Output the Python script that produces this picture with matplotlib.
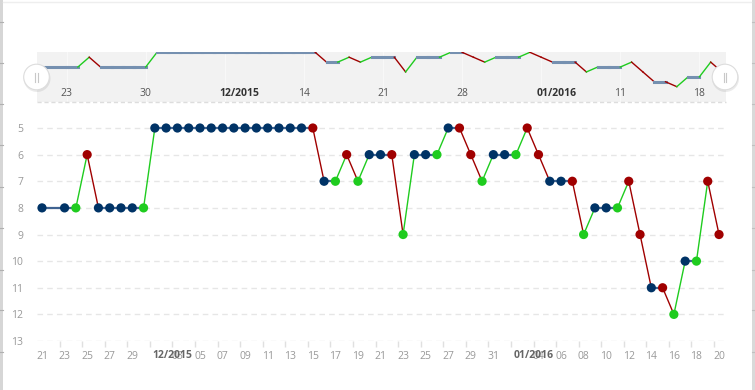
import matplotlib
matplotlib.use("Agg")
import matplotlib.pyplot as plt
import matplotlib.dates as mdates
from matplotlib.patches import Circle, Rectangle
import pandas as pd
import numpy as np

plt.rcParams['font.family'] = ['Liberation Sans Narrow', 'Open Sans', 'DejaVu Sans']

# ---------------- data ----------------
dates = ["2015-11-21"] + [d.strftime("%Y-%m-%d") for d in pd.date_range("2015-11-23", "2016-01-20")]
ranks = [8, 8, 8, 6, 8, 8, 8, 8, 8,
         5, 5, 5, 5, 5, 5, 5, 5, 5, 5, 5, 5, 5, 5, 5,
         7, 7, 6, 7, 6, 6, 6, 9, 6, 6, 6, 5, 5, 6, 7, 6,
         6, 6, 5, 6, 7, 7, 7, 9, 8, 8, 8, 7, 9, 11, 11, 12, 10, 10, 7, 9]
main_xtick_dates = pd.date_range("2015-11-21", "2016-01-20", freq="2D")
main_month_labels = {"2015-12-01": "12/2015", "2016-01-02": "01/2016"}
nav_tick_dates = ["2015-11-23", "2015-11-30", "2015-12-07", "2015-12-14", "2015-12-21",
                  "2015-12-28", "2016-01-04", "2016-01-11", "2016-01-18"]
nav_tick_labels = ["23", "30", "12/2015", "14", "21", "28", "01/2016", "11", "18"]
y_ticks = list(range(5, 14))

# ---------------- styles ----------------
C_UP = "#1fcc1f"
C_DOWN = "#a00000"
C_SAME = "#003366"
C_SAME_LINE = "#3f6391"
C_NAV_SAME = "#7590b0"
GRID = "#e6e6e6"
LABEL = "#999999"

x = mdates.date2num(pd.to_datetime(dates))
y = np.array(ranks, dtype=float)

def seg_color(a, b, same):
    if b < a:
        return C_UP
    if b > a:
        return C_DOWN
    return same

pt_colors = []
for i in range(len(y)):
    if i < len(y) - 1:
        pt_colors.append(seg_color(y[i], y[i + 1], C_SAME))
    else:
        pt_colors.append(seg_color(y[i - 1], y[i], C_SAME))

W, H = 755, 390
fig = plt.figure(figsize=(W / 100, H / 100), dpi=100)

def frac_box(l, t, r, b):
    return [l / W, 1 - b / H, (r - l) / W, (b - t) / H]

# ---------------- main chart ----------------
ax = fig.add_axes(frac_box(37, 115, 725, 341))
day = 1.0
ax.set_xlim(x[0] - 0.444 * day, x[-1] + 0.53 * day)
ax.set_ylim(13, 5 - 13 / 26.6)
for s in ax.spines.values():
    s.set_visible(False)
ax.set_yticks(y_ticks)
ax.set_yticklabels([str(v) for v in y_ticks])
ax.grid(axis='y', color=GRID, linestyle=(0, (4, 3)), linewidth=1)
ax.set_axisbelow(True)
ax.tick_params(axis='y', length=0, pad=10, labelsize=7.5, labelcolor=LABEL)

mt = mdates.date2num(main_xtick_dates)
ax.set_xticks(mt)
labels = []
for d in main_xtick_dates:
    k = d.strftime("%Y-%m-%d")
    labels.append("" if k in main_month_labels else d.strftime("%d"))
ax.set_xticklabels(labels)
ax.tick_params(axis='x', length=0, pad=7, labelsize=7.5, labelcolor=LABEL)
ax.set_xticks(mt + 1.56, minor=True)
ax.tick_params(axis='x', which='minor', length=4, color="#e0e0e0", width=1)
ax.set_xlim(x[0] - 0.444, x[-1] + 0.53)
for k, lab in main_month_labels.items():
    xv = mdates.date2num(pd.Timestamp(k))
    ax.annotate(lab, xy=(xv, 0), xycoords=('data', 'axes fraction'),
                xytext=(-2.5, -14), textcoords='offset pixels', ha='left', va='center',
                fontsize=7.5, fontweight='bold', color="#666666")
    # the overlapped regular label two days later
for i in range(len(x) - 1):
    c = seg_color(y[i], y[i + 1], C_SAME_LINE)
    lw = 1.6 if c == C_SAME_LINE else 1.0
    ax.plot(x[i:i + 2], y[i:i + 2], color=c, lw=lw, zorder=2, solid_capstyle='round')
ax.scatter(x, y, s=44, c=pt_colors, zorder=3, linewidths=0)

# ---------------- navigator ----------------
nav = fig.add_axes(frac_box(37, 52, 726, 102))
nav.set_facecolor("#f2f2f2")
for s in nav.spines.values():
    s.set_visible(False)
nav.set_xlim(x[0] - 7 / 11.3, x[-1] + 4 / 11.3)
nav.set_ylim(5 + 49.7 / 4.91, 5 - 0.3 / 4.91)
nav.set_xticks([])
nav.set_yticks([])
for i in range(len(x) - 1):
    c = seg_color(y[i], y[i + 1], C_NAV_SAME)
    lw = 2.2 if c == C_NAV_SAME else 1.0
    nav.plot(x[i:i + 2], y[i:i + 2], color=c, lw=lw, zorder=2)
for d, lab in zip(nav_tick_dates, nav_tick_labels):
    xv = mdates.date2num(pd.Timestamp(d))
    nav.axvline(xv, color="#f8f8f8", lw=0.8, zorder=1)
    bold = "/" in lab
    nav.annotate(lab, xy=(xv, 0.16), xycoords=('data', 'axes fraction'),
                 xytext=(-5 if bold else 0, 0), textcoords='offset pixels',
                 ha='left' if bold else 'center', va='center', fontsize=7.5,
                 fontweight='bold' if bold else 'normal',
                 color="#333333" if bold else "#555555")
nav.axhline(nav.get_ylim()[0], color="#dddddd", lw=1, linestyle=(0, (3, 2)), clip_on=False)

# ---------------- overlay (handles, page edges) ----------------
ov = fig.add_axes([0, 0, 1, 1], zorder=10)
ov.set_xlim(0, W)
ov.set_ylim(H, 0)
ov.axis('off')
ov.patch.set_alpha(0)
ov.add_patch(Rectangle((0, 0), 2.5, H, color="#d6d6d6", lw=0))
ov.add_patch(Rectangle((751.5, 0), 3.5, H, color="#d9d9d9", lw=0))
for yy in [22, 63, 104, 145, 187, 228, 270, 310, 352]:
    ov.plot([0, 2.5], [yy, yy], color="#b0b0b0", lw=0.8)
    ov.plot([751.5, 755], [yy, yy], color="#c0c0c0", lw=0.8)
ov.plot([3, 751], [1.5, 1.5], color="#eeeeee", lw=1)
for cx, cy in [(36.5, 77), (725, 77)]:
    ov.add_patch(Circle((cx + 0.5, cy + 1.5), 13.5, color="#000000", alpha=0.08, lw=0))
    ov.add_patch(Circle((cx, cy), 12.8, facecolor="white", edgecolor="#dddddd", lw=0.8))
    for dx in (-1.3, 1.3):
        ov.plot([cx + dx, cx + dx], [cy - 4.5, cy + 4.5], color="#c8c8c8", lw=0.8)

fig.savefig("out.png", dpi=100)
